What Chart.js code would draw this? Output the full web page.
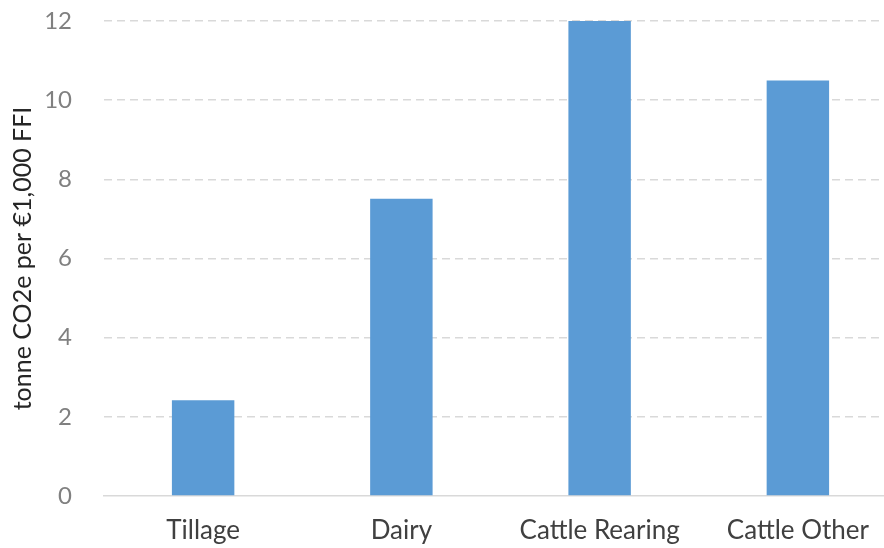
<!DOCTYPE html>
<html>
<head>
<meta charset="utf-8">
<script src="https://cdn.jsdelivr.net/npm/chart.js@4/dist/chart.umd.min.js"></script>
<style>
  html, body { margin: 0; padding: 0; background: #fff; overflow: hidden; }
  #wrap { position: relative; width: 900px; height: 548px; }
</style>
</head>
<body>
<div id="wrap"><canvas id="c"></canvas></div>
<script>
// Emission intensity by farm system
const categories = ['Tillage', 'Dairy', 'Cattle Rearing', 'Cattle Other'];
const intensity = [2.42, 7.51, 12.0, 10.5];
const yTicks = [0, 2, 4, 6, 8, 10, 12];
const yTitle = 'tonne CO2e per €1,000 FFI';

const FONT = 'Lato, "Open Sans", "Liberation Sans", sans-serif';

new Chart(document.getElementById('c'), {
  type: 'bar',
  data: {
    labels: categories,
    datasets: [{
      data: intensity,
      backgroundColor: '#5B9BD5',
      borderWidth: 0,
      categoryPercentage: 1,
      barPercentage: 0.315
    }]
  },
  options: {
    responsive: true,
    maintainAspectRatio: false,
    animation: false,
    layout: { padding: { left: 0, right: 3, top: 21, bottom: 0 } },
    plugins: { legend: { display: false }, tooltip: { enabled: false } },
    scales: {
      x: {
        grid: { display: false, drawTicks: false },
        border: { display: true, color: '#d9d9d9', width: 1.5 },
        ticks: {
          color: '#404040',
          font: { family: FONT, size: 26 },
          padding: 19,
          maxRotation: 0
        },
        afterFit: s => { s.height = 52; s.paddingLeft = 0; s.paddingRight = 0; }
      },
      y: {
        min: 0,
        max: 12,
        afterBuildTicks: s => { s.ticks = yTicks.map(v => ({ value: v })); },
        grid: {
          color: ctx => ctx.tick && ctx.tick.value === 0 ? 'rgba(0,0,0,0)' : '#d9d9d9',
          lineWidth: 1.5,
          drawTicks: false
        },
        border: { display: false, dash: [8, 5] },
        ticks: {
          color: '#808080',
          font: { family: FONT, size: 24 },
          padding: 32
        },
        title: {
          display: true,
          text: yTitle,
          color: '#262626',
          font: { family: FONT, size: 25 },
          padding: { top: 8, bottom: 0 }
        },
        afterFit: s => { s.width = 104; s.paddingTop = 0; s.paddingBottom = 0; }
      }
    }
  }
});
</script>
</body>
</html>
